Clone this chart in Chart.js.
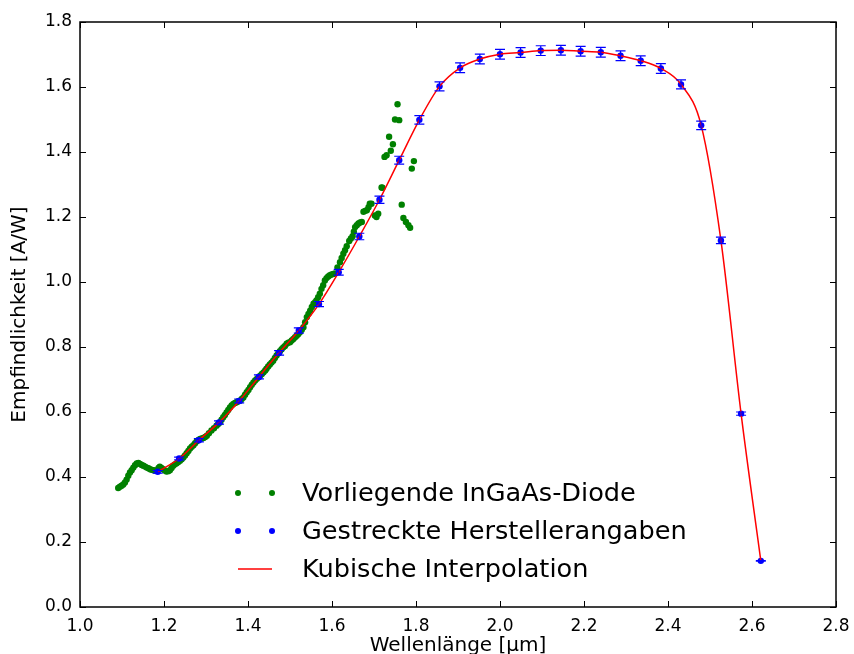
<!DOCTYPE html>
<html>
<head>
<meta charset="utf-8">
<script src="https://cdn.jsdelivr.net/npm/chart.js@4"></script>
<style>
  html, body { margin: 0; padding: 0; background: #fff; }
  #wrap { width: 854px; height: 654px; }
</style>
</head>
<body>
<div id="wrap"><canvas id="chart" width="854" height="654"></canvas></div>
<script>
// ── Data ────────────────────────────────────────────────────────────────

// measured diode response (green dots)
const diodeX = [1.091, 1.095, 1.099, 1.103, 1.107, 1.111, 1.115, 1.119, 1.123, 1.127, 1.131, 1.135, 1.139, 1.143, 1.147, 1.151, 1.155, 1.159, 1.163, 1.167,
  1.171, 1.175, 1.179, 1.183, 1.187, 1.190, 1.194, 1.198, 1.202, 1.206, 1.210, 1.214, 1.218, 1.222, 1.226, 1.230, 1.234, 1.238, 1.242, 1.246,
  1.250, 1.254, 1.258, 1.262, 1.266, 1.270, 1.274, 1.278, 1.282, 1.286, 1.290, 1.294, 1.298, 1.302, 1.307, 1.313, 1.319, 1.325, 1.329, 1.333,
  1.337, 1.341, 1.345, 1.349, 1.353, 1.357, 1.361, 1.365, 1.369, 1.373, 1.377, 1.381, 1.385, 1.389, 1.393, 1.397, 1.401, 1.405, 1.409, 1.413,
  1.417, 1.421, 1.425, 1.429, 1.433, 1.437, 1.441, 1.444, 1.448, 1.452, 1.456, 1.460, 1.464, 1.468, 1.472, 1.476, 1.480, 1.484, 1.488, 1.492,
  1.496, 1.500, 1.504, 1.508, 1.512, 1.516, 1.520, 1.524, 1.528, 1.532, 1.536, 1.540, 1.544, 1.548, 1.552, 1.556, 1.560, 1.563, 1.567, 1.571,
  1.575, 1.579, 1.583, 1.587, 1.591, 1.595, 1.599, 1.603, 1.607, 1.613, 1.619, 1.623, 1.627, 1.631, 1.635, 1.641, 1.645, 1.649, 1.652, 1.655,
  1.659, 1.663, 1.667, 1.671, 1.675, 1.679, 1.683, 1.687, 1.690, 1.694, 1.702, 1.706, 1.710, 1.718, 1.720, 1.725, 1.730, 1.736, 1.740, 1.745,
  1.750, 1.756, 1.760, 1.766, 1.770, 1.776, 1.782, 1.786, 1.790, 1.795];
const diodeY = [0.366, 0.370, 0.373, 0.377, 0.383, 0.392, 0.404, 0.414, 0.421, 0.429, 0.436, 0.442, 0.443, 0.440, 0.437, 0.435, 0.432, 0.429, 0.427, 0.424,
  0.422, 0.421, 0.420, 0.419, 0.428, 0.432, 0.428, 0.424, 0.420, 0.417, 0.418, 0.421, 0.428, 0.435, 0.439, 0.442, 0.446, 0.450, 0.455, 0.460,
  0.466, 0.473, 0.480, 0.488, 0.493, 0.498, 0.504, 0.510, 0.514, 0.517, 0.519, 0.520, 0.523, 0.527, 0.535, 0.543, 0.550, 0.558, 0.563, 0.568,
  0.576, 0.584, 0.591, 0.599, 0.606, 0.614, 0.620, 0.625, 0.628, 0.630, 0.633, 0.635, 0.640, 0.645, 0.653, 0.661, 0.668, 0.676, 0.684, 0.691,
  0.697, 0.702, 0.707, 0.712, 0.717, 0.722, 0.728, 0.733, 0.740, 0.746, 0.752, 0.758, 0.766, 0.774, 0.781, 0.787, 0.793, 0.799, 0.803, 0.810,
  0.813, 0.815, 0.820, 0.825, 0.830, 0.835, 0.840, 0.846, 0.853, 0.861, 0.876, 0.892, 0.902, 0.912, 0.923, 0.933, 0.938, 0.943, 0.953, 0.964,
  0.979, 0.990, 1.005, 1.012, 1.017, 1.021, 1.023, 1.025, 1.026, 1.045, 1.061, 1.074, 1.087, 1.098, 1.110, 1.126, 1.134, 1.141, 1.155, 1.169,
  1.175, 1.180, 1.183, 1.185, 1.216, 1.219, 1.221, 1.230, 1.241, 1.241, 1.205, 1.200, 1.210, 1.291, 1.290, 1.385, 1.390, 1.447, 1.404, 1.424,
  1.500, 1.547, 1.498, 1.238, 1.197, 1.185, 1.175, 1.167, 1.349, 1.372];

// stretched manufacturer data (blue points with error bars)
const makerX = [1.185, 1.236, 1.283, 1.331, 1.379, 1.426, 1.474, 1.521, 1.569, 1.616, 1.665, 1.713, 1.760, 1.808, 1.856, 1.905,
  1.952, 2.000, 2.049, 2.097, 2.145, 2.192, 2.240, 2.287, 2.335, 2.383, 2.431, 2.479, 2.526, 2.574, 2.621];
const makerY = [0.416, 0.457, 0.513, 0.568, 0.634, 0.708, 0.782, 0.851, 0.932, 1.030, 1.140, 1.253, 1.375, 1.499, 1.602, 1.659,
  1.686, 1.701, 1.706, 1.712, 1.713, 1.710, 1.707, 1.696, 1.681, 1.657, 1.608, 1.482, 1.128, 0.595, 0.142];
const makerErr = [0.004, 0.004, 0.005, 0.005, 0.006, 0.006, 0.007, 0.008, 0.008, 0.009, 0.010, 0.011, 0.012, 0.013, 0.014, 0.015,
  0.015, 0.015, 0.015, 0.015, 0.015, 0.015, 0.015, 0.015, 0.015, 0.015, 0.014, 0.013, 0.010, 0.005, 0.001];

const xTicks = [1.0, 1.2, 1.4, 1.6, 1.8, 2.0, 2.2, 2.4, 2.6, 2.8];
const yTicks = [0.0, 0.2, 0.4, 0.6, 0.8, 1.0, 1.2, 1.4, 1.6, 1.8];

const labels = ["Vorliegende InGaAs-Diode", "Gestreckte Herstellerangaben", "Kubische Interpolation"];

const FONT = "'DejaVu Sans', sans-serif";

// ── Plugins ─────────────────────────────────────────────────────────────

// error bars on the manufacturer points
const errorBars = {
  id: "errorBars",
  afterDatasetsDraw(chart) {
    const { ctx, scales: { x, y } } = chart;
    ctx.save();
    ctx.strokeStyle = "#0000ff";
    ctx.lineWidth = 1.2;
    makerX.forEach((xv, i) => {
      const px = x.getPixelForValue(xv);
      const top = y.getPixelForValue(makerY[i] + makerErr[i]);
      const bot = y.getPixelForValue(makerY[i] - makerErr[i]);
      ctx.beginPath();
      ctx.moveTo(px, top); ctx.lineTo(px, bot);
      ctx.moveTo(px - 5, top); ctx.lineTo(px + 5, top);
      ctx.moveTo(px - 5, bot); ctx.lineTo(px + 5, bot);
      ctx.stroke();
    });
    ctx.restore();
  }
};

// matplotlib-like frame with inward ticks on all four sides
const frame = {
  id: "frame",
  afterDraw(chart) {
    const { ctx, chartArea: a, scales: { x, y } } = chart;
    ctx.save();
    ctx.strokeStyle = "#000";
    ctx.lineWidth = 1;
    ctx.beginPath();
    xTicks.forEach(v => {
      const px = Math.round(x.getPixelForValue(v)) + 0.5;
      ctx.moveTo(px, a.bottom); ctx.lineTo(px, a.bottom - 6);
      ctx.moveTo(px, a.top); ctx.lineTo(px, a.top + 6);
    });
    yTicks.forEach(v => {
      const py = Math.round(y.getPixelForValue(v)) + 0.5;
      ctx.moveTo(a.left, py); ctx.lineTo(a.left + 6, py);
      ctx.moveTo(a.right, py); ctx.lineTo(a.right - 6, py);
    });
    ctx.stroke();
    ctx.lineWidth = 1.5;
    ctx.strokeRect(a.left, a.top, a.right - a.left, a.bottom - a.top);
    ctx.restore();
  }
};

// legend inside the plot, no box
const legendBox = {
  id: "legendBox",
  afterDraw(chart) {
    const { ctx, chartArea: a } = chart;
    const x0 = a.left + 158, x1 = a.left + 192, tx = a.left + 222;
    const rows = [a.bottom - 114, a.bottom - 76, a.bottom - 38];
    ctx.save();
    ctx.font = "25.6px " + FONT;
    ctx.textBaseline = "middle";
    // green dots
    ctx.fillStyle = "#008000";
    [x0, x1].forEach(px => { ctx.beginPath(); ctx.arc(px, rows[0], 3, 0, Math.PI * 2); ctx.fill(); });
    // blue dots
    ctx.fillStyle = "#0000ff";
    [x0, x1].forEach(px => { ctx.beginPath(); ctx.arc(px, rows[1], 3, 0, Math.PI * 2); ctx.fill(); });
    // red line
    ctx.strokeStyle = "#ff0000";
    ctx.lineWidth = 1.5;
    ctx.beginPath(); ctx.moveTo(x0, rows[2]); ctx.lineTo(x1, rows[2]); ctx.stroke();
    ctx.fillStyle = "#000";
    labels.forEach((t, i) => ctx.fillText(t, tx, rows[i] + 1));
    ctx.restore();
  }
};

// ── Chart ───────────────────────────────────────────────────────────────

new Chart(document.getElementById("chart"), {
  type: "scatter",
  data: {
    datasets: [
      {
        label: labels[2],
        data: makerX.map((v, i) => ({ x: v, y: makerY[i] })),
        showLine: true,
        cubicInterpolationMode: "monotone",
        borderColor: "#ff0000",
        borderWidth: 1.5,
        pointRadius: 0,
        fill: false
      },
      {
        label: labels[1],
        data: makerX.map((v, i) => ({ x: v, y: makerY[i] })),
        backgroundColor: "#0000ff",
        borderWidth: 0,
        pointRadius: 3.2
      },
      {
        label: labels[0],
        data: diodeX.map((v, i) => ({ x: v, y: diodeY[i] })),
        backgroundColor: "#008000",
        borderWidth: 0,
        pointRadius: 3.2
      }
    ]
  },
  options: {
    responsive: false,
    animation: false,
    layout: { padding: { top: 22, right: 18, left: 0, bottom: 0 } },
    plugins: { legend: { display: false }, tooltip: { enabled: false } },
    scales: {
      x: {
        type: "linear",
        min: 1.0, max: 2.8,
        afterBuildTicks: s => { s.ticks = xTicks.map(v => ({ value: v })); },
        afterFit: s => { s.height = 47; s.paddingLeft = 0; s.paddingRight = 0; },
        grid: { display: false, drawTicks: false },
        border: { display: false },
        ticks: { color: "#000", font: { family: FONT, size: 17 }, padding: 9, maxRotation: 0,
                 callback: v => v.toFixed(1) },
        title: { display: true, text: "Wellenlänge [µm]", color: "#000",
                 font: { family: FONT, size: 20, lineHeight: 0.8 }, padding: 0 }
      },
      y: {
        type: "linear",
        min: 0, max: 1.8,
        afterBuildTicks: s => { s.ticks = yTicks.map(v => ({ value: v })); },
        afterFit: s => { s.width = 80; s.paddingTop = 0; s.paddingBottom = 0; },
        grid: { display: false, drawTicks: false },
        border: { display: false },
        ticks: { color: "#000", font: { family: FONT, size: 17 }, padding: 8,
                 callback: v => v.toFixed(1) },
        title: { display: true, text: "Empfindlichkeit [A/W]", color: "#000",
                 font: { family: FONT, size: 20, lineHeight: 1.2 }, padding: { top: 8, bottom: 0 } }
      }
    }
  },
  plugins: [errorBars, frame, legendBox]
});
</script>
</body>
</html>
